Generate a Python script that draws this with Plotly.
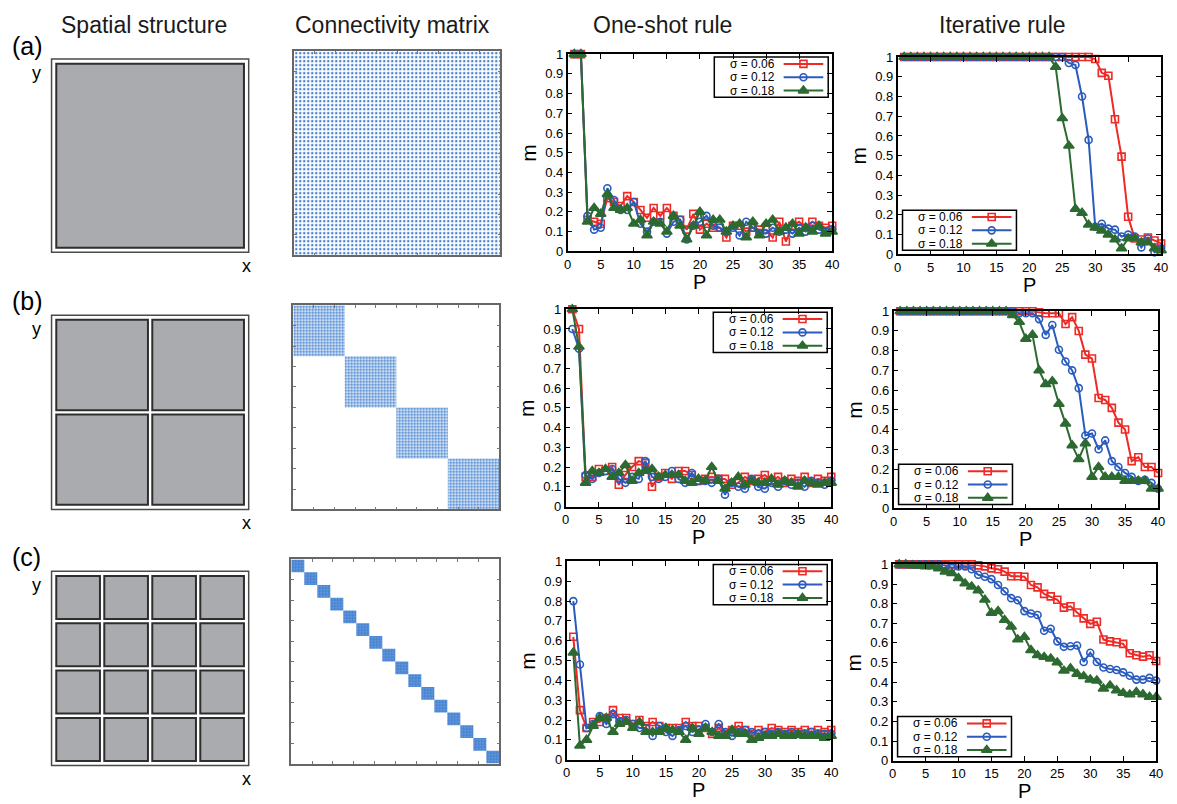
import plotly.graph_objects as go

W, H = 1177, 804
FONT = "Liberation Sans, Arial, Helvetica, sans-serif"

# ------------------------------------------------------------------ data
P = [1, 2, 3, 4, 5, 6, 7, 8, 9, 10, 11, 12, 13, 14, 15, 16, 17, 18, 19, 20,
     21, 22, 23, 24, 25, 26, 27, 28, 29, 30, 31, 32, 33, 34, 35, 36, 37, 38, 39, 40]
X_TICKS = [0, 5, 10, 15, 20, 25, 30, 35, 40]
Y_TICKS = [0, 0.1, 0.2, 0.3, 0.4, 0.5, 0.6, 0.7, 0.8, 0.9, 1]
Y_TICK_TEXT = ["0", "0.1", "0.2", "0.3", "0.4", "0.5", "0.6", "0.7", "0.8", "0.9", "1"]
SIGMA_LABELS = ["σ = 0.06", "σ = 0.12", "σ = 0.18"]
COLUMN_TITLES = ["Spatial structure", "Connectivity matrix", "One-shot rule", "Iterative rule"]
ROW_LABELS = ["(a)", "(b)", "(c)"]
GRID_SIZES = [1, 2, 4]                     # modules per side of the spatial structure
MATRIX_BLOCKS_A = [0]
MATRIX_BLOCKS_B = [0, 1, 2, 3]
MATRIX_BLOCKS_C = [0, 1, 2, 3, 4, 5, 6, 7, 8, 9, 10, 11, 12, 13, 14, 15]

# one-shot rule
OS_A_006 = [1, 1, 0.16, 0.15, 0.14, 0.27, 0.25, 0.23, 0.28, 0.25, 0.21, 0.17, 0.22, 0.18, 0.22, 0.18, 0.16, 0.11, 0.19, 0.11,
            0.14, 0.12, 0.12, 0.07, 0.13, 0.13, 0.10, 0.12, 0.11, 0.11, 0.07, 0.15, 0.05, 0.13, 0.15, 0.12, 0.15, 0.13, 0.12, 0.13]
OS_A_012 = [1, 1, 0.18, 0.11, 0.12, 0.32, 0.26, 0.21, 0.21, 0.25, 0.14, 0.10, 0.15, 0.15, 0.09, 0.15, 0.16, 0.06, 0.13, 0.15,
            0.18, 0.13, 0.12, 0.10, 0.12, 0.08, 0.15, 0.12, 0.09, 0.09, 0.12, 0.10, 0.11, 0.09, 0.12, 0.10, 0.13, 0.11, 0.10, 0.11]
OS_A_018 = [1, 1, 0.15, 0.22, 0.19, 0.29, 0.22, 0.21, 0.22, 0.14, 0.16, 0.08, 0.15, 0.14, 0.10, 0.18, 0.13, 0.06, 0.13, 0.20,
            0.08, 0.16, 0.16, 0.10, 0.13, 0.14, 0.07, 0.15, 0.08, 0.14, 0.16, 0.10, 0.12, 0.14, 0.09, 0.12, 0.10, 0.13, 0.09, 0.10]
OS_B_006 = [1.0, 0.90, 0.15, 0.15, 0.19, 0.18, 0.20, 0.11, 0.16, 0.20, 0.23, 0.22, 0.10, 0.15, 0.17, 0.14, 0.18, 0.18, 0.16, 0.13,
            0.14, 0.15, 0.14, 0.14, 0.11, 0.12, 0.15, 0.13, 0.14, 0.16, 0.13, 0.15, 0.12, 0.14, 0.13, 0.15, 0.12, 0.14, 0.13, 0.15]
OS_B_012 = [0.90, 0.80, 0.16, 0.14, 0.17, 0.18, 0.19, 0.14, 0.12, 0.15, 0.14, 0.23, 0.15, 0.14, 0.15, 0.18, 0.14, 0.12, 0.17, 0.13,
            0.13, 0.12, 0.14, 0.06, 0.12, 0.10, 0.09, 0.14, 0.10, 0.09, 0.12, 0.10, 0.13, 0.11, 0.12, 0.10, 0.13, 0.12, 0.11, 0.13]
OS_B_018 = [1.0, 0.81, 0.12, 0.18, 0.17, 0.19, 0.15, 0.17, 0.21, 0.13, 0.17, 0.18, 0.19, 0.15, 0.16, 0.16, 0.16, 0.13, 0.12, 0.14,
            0.13, 0.20, 0.13, 0.09, 0.12, 0.15, 0.11, 0.13, 0.12, 0.12, 0.14, 0.11, 0.13, 0.12, 0.10, 0.13, 0.12, 0.11, 0.12, 0.12]
OS_C_006 = [0.62, 0.25, 0.16, 0.19, 0.19, 0.21, 0.25, 0.21, 0.21, 0.18, 0.20, 0.17, 0.19, 0.17, 0.16, 0.16, 0.16, 0.19, 0.17, 0.17,
            0.16, 0.13, 0.16, 0.13, 0.15, 0.17, 0.15, 0.13, 0.15, 0.14, 0.16, 0.15, 0.14, 0.15, 0.14, 0.15, 0.14, 0.15, 0.14, 0.15]
OS_C_012 = [0.80, 0.48, 0.16, 0.18, 0.22, 0.18, 0.23, 0.19, 0.20, 0.18, 0.16, 0.16, 0.12, 0.17, 0.14, 0.12, 0.15, 0.17, 0.14, 0.15,
            0.18, 0.14, 0.18, 0.14, 0.12, 0.14, 0.15, 0.14, 0.13, 0.14, 0.13, 0.14, 0.13, 0.14, 0.13, 0.13, 0.14, 0.13, 0.13, 0.13]
OS_C_018 = [0.54, 0.07, 0.10, 0.17, 0.21, 0.21, 0.14, 0.18, 0.19, 0.16, 0.19, 0.14, 0.14, 0.14, 0.16, 0.15, 0.14, 0.10, 0.16, 0.13,
            0.16, 0.14, 0.12, 0.12, 0.15, 0.13, 0.13, 0.10, 0.11, 0.12, 0.12, 0.13, 0.12, 0.12, 0.13, 0.12, 0.12, 0.12, 0.11, 0.12]

# iterative rule
IT_A_006 = [1, 1, 1, 1, 1, 1, 1, 1, 1, 1, 1, 1, 1, 1, 1, 1, 1, 1, 1, 1,
            1, 1, 1, 1, 1, 1, 1, 1, 1, 0.99, 0.92, 0.905, 0.685, 0.495, 0.19, 0.08, 0.075, 0.085, 0.07, 0.055]
IT_A_012 = [1, 1, 1, 1, 1, 1, 1, 1, 1, 1, 1, 1, 1, 1, 1, 1, 1, 1, 1, 1,
            1, 1, 1, 1, 1, 0.97, 0.96, 0.80, 0.58, 0.14, 0.155, 0.13, 0.125, 0.09, 0.10, 0.09, 0.035, 0.08, 0.01, 0.03]
IT_A_018 = [1, 1, 1, 1, 1, 1, 1, 1, 1, 1, 1, 1, 1, 1, 1, 1, 1, 1, 1, 1,
            1, 1, 1, 0.95, 0.69, 0.55, 0.23, 0.21, 0.15, 0.135, 0.12, 0.10, 0.075, 0.03, 0.08, 0.08, 0.06, 0.06, 0.03, 0.02]
IT_B_006 = [1, 1, 1, 1, 1, 1, 1, 1, 1, 1, 1, 1, 1, 1, 1, 1, 1, 1, 1, 1,
            1, 0.995, 0.99, 0.99, 0.99, 0.935, 0.97, 0.90, 0.78, 0.76, 0.56, 0.55, 0.51, 0.435, 0.40, 0.24, 0.26, 0.21, 0.21, 0.18]
IT_B_012 = [1, 1, 1, 1, 1, 1, 1, 1, 1, 1, 1, 1, 1, 1, 1, 1, 1, 1, 0.99, 0.99,
            0.99, 0.96, 0.88, 0.93, 0.805, 0.745, 0.70, 0.61, 0.37, 0.38, 0.30, 0.345, 0.24, 0.21, 0.18, 0.16, 0.14, 0.145, 0.13, 0.10]
IT_B_018 = [1, 1, 1, 1, 1, 1, 1, 1, 1, 1, 1, 1, 1, 1, 1, 1, 1, 0.98, 0.945, 0.86,
            0.88, 0.70, 0.63, 0.645, 0.53, 0.43, 0.32, 0.25, 0.33, 0.16, 0.21, 0.16, 0.16, 0.16, 0.14, 0.14, 0.14, 0.14, 0.10, 0.10]
IT_C_006 = [1, 1, 1, 1, 1, 1, 1, 1, 1, 1, 1, 1, 0.995, 0.99, 0.98, 0.975, 0.963, 0.94, 0.94, 0.937,
            0.895, 0.883, 0.85, 0.837, 0.82, 0.78, 0.787, 0.755, 0.725, 0.697, 0.708, 0.617, 0.608, 0.603, 0.595, 0.547, 0.537, 0.53, 0.537, 0.508]
IT_C_012 = [1, 1, 1, 1, 1, 1, 1, 0.995, 0.983, 0.99, 0.99, 0.975, 0.947, 0.937, 0.925, 0.895, 0.863, 0.828, 0.817, 0.762,
            0.75, 0.742, 0.662, 0.672, 0.608, 0.58, 0.583, 0.587, 0.503, 0.55, 0.503, 0.475, 0.467, 0.462, 0.45, 0.433, 0.413, 0.413, 0.422, 0.408]
IT_C_018 = [1, 1, 0.995, 0.993, 0.99, 0.99, 0.98, 0.963, 0.955, 0.93, 0.903, 0.887, 0.867, 0.82, 0.753, 0.762, 0.717, 0.683, 0.617, 0.63,
            0.563, 0.537, 0.528, 0.52, 0.50, 0.458, 0.47, 0.442, 0.43, 0.413, 0.408, 0.367, 0.383, 0.358, 0.345, 0.337, 0.35, 0.338, 0.325, 0.325]

ONESHOT = [[OS_A_006, OS_A_012, OS_A_018], [OS_B_006, OS_B_012, OS_B_018], [OS_C_006, OS_C_012, OS_C_018]]
ITERATIVE = [[IT_A_006, IT_A_012, IT_A_018], [IT_B_006, IT_B_012, IT_B_018], [IT_C_006, IT_C_012, IT_C_018]]
MATRIX_BLOCKS = [MATRIX_BLOCKS_A, MATRIX_BLOCKS_B, MATRIX_BLOCKS_C]

# ------------------------------------------------------------------ styles / layout (pixels)
SERIES_STYLE = [
    dict(color="#ee2a26", symbol="square-open", size=7),
    dict(color="#2a5bbd", symbol="circle-open", size=7),
    dict(color="#2c6a31", symbol="triangle-up", size=9),
]
DOT_BLUE = "#4683d2"
MATRIX_PATTERN = [dict(size=4, solidity=0.3), dict(size=3, solidity=0.5), dict(size=3, solidity=0.85)]

SPATIAL_BOX = [(48, 53, 247, 250), (48, 314, 247, 512), (48, 575, 247, 773)]
MATRIX_BOX = [(293, 45, 501, 253), (292, 304, 500, 512), (290, 563, 500, 771)]
ONESHOT_BOX = [(569, 48, 836, 249), (567, 308, 835, 509), (568, 565, 835, 767)]
ITER_BOX = [(902, 51, 1168, 252), (898, 310, 1165, 511), (897, 568, 1163, 768)]
TITLE_X = [141, 392, 665, 1008]
ROW_LABEL_POS = [(24, 40), (24, 300), (23, 560)]
LEG_W, LEG_H = 115, 41
LEG_ROWS = [7, 20.6, 34.2]


def dom_x(x0, x1):
    return [x0 / W, x1 / W]


def dom_y(y0, y1):
    return [1 - y1 / H, 1 - y0 / H]


def px(x):
    return x / W


def py(y):
    return 1 - y / H


def nm(kind, k):
    return kind if k == 1 else f"{kind}{k}"


fig = go.Figure()
layout = dict(width=W, height=H, margin=dict(l=0, r=0, t=0, b=0), paper_bgcolor="white",
              plot_bgcolor="rgba(0,0,0,0)", showlegend=False, barmode="overlay",
              font=dict(family=FONT, color="black"))
shapes, annotations = [], []


def text(x, y, s, size, **kw):
    d = dict(x=px(x), y=py(y), xref="paper", yref="paper", text=s, showarrow=False,
             font=dict(family=FONT, size=size, color=kw.pop("color", "black")),
             xanchor=kw.pop("xanchor", "center"), yanchor=kw.pop("yanchor", "middle"))
    d.update(kw)
    annotations.append(d)


# column titles and row labels
for t, x in zip(COLUMN_TITLES, TITLE_X):
    text(x, 18, t, 23, color="#1a1a1a")
for lab, (x, y) in zip(ROW_LABELS, ROW_LABEL_POS):
    text(x, y, lab, 25)

# ---------------- spatial structure
for r, n in enumerate(GRID_SIZES):
    k = 1 + r
    x0, y0, x1, y1 = SPATIAL_BOX[r]
    mx, my = 4 / (x1 - x0), 4 / (y1 - y0)
    layout[nm("xaxis", k)] = dict(domain=dom_x(x0 - 4, x1 + 4), range=[-mx, 1 + mx], visible=False,
                                  anchor=f"y{k}", fixedrange=True)
    layout[nm("yaxis", k)] = dict(domain=dom_y(y0 - 4, y1 + 4), range=[-my, 1 + my], visible=False,
                                  anchor=f"x{k}", fixedrange=True)
    xr, yr = f"x{k}", f"y{k}"
    shapes.append(dict(type="rect", xref=xr, yref=yr, x0=0, x1=1, y0=0, y1=1,
                       line=dict(color="#4a4a4a", width=1.5)))
    pad, gap = 0.024, 0.022
    cw = (1 - 2 * pad - (n - 1) * gap) / n
    for i in range(n):
        for j in range(n):
            cx0 = pad + i * (cw + gap)
            cy0 = pad + j * (cw + gap)
            shapes.append(dict(type="rect", xref=xr, yref=yr, x0=cx0, x1=cx0 + cw, y0=cy0, y1=cy0 + cw,
                               fillcolor="#aaabae", line=dict(color="#2e2e2e", width=2)))
    text(33, y0 + 14, "y", 18)
    text(245, y1 + 14, "x", 18)

# ---------------- connectivity matrices
for r, blocks in enumerate(MATRIX_BLOCKS):
    k = 4 + r
    n = len(blocks)
    x0, y0, x1, y1 = MATRIX_BOX[r]
    fig.add_trace(go.Bar(
        x=[b + 0.5 for b in blocks], y=[1 for _ in blocks], base=blocks, width=[1 for _ in blocks],
        xaxis=f"x{k}", yaxis=f"y{k}", hoverinfo="skip",
        marker=dict(color="white", line=dict(width=0),
                    pattern=dict(shape=".", fgcolor=DOT_BLUE, bgcolor="white", fillmode="replace",
                                 **MATRIX_PATTERN[r]))))
    common = dict(showline=True, mirror="allticks", ticks="inside", ticklen=3, tickwidth=1,
                  tickcolor="#777", linecolor="#666", linewidth=1.5, showticklabels=False,
                  showgrid=False, zeroline=False, tick0=0, dtick=n / 10, fixedrange=True)
    layout[nm("xaxis", k)] = dict(domain=dom_x(x0, x1), range=[0, n], anchor=f"y{k}", **common)
    layout[nm("yaxis", k)] = dict(domain=dom_y(y0, y1), range=[n, 0], anchor=f"x{k}", **common)


# ---------------- line panels
def line_panel(k, box, series, legend_where):
    x0, y0, x1, y1 = box
    ax = dict(showline=True, mirror="allticks", ticks="inside", ticklen=5, tickwidth=1.2,
              tickcolor="black", linecolor="black", linewidth=1.5, showgrid=False, zeroline=False,
              tickfont=dict(family=FONT, size=13, color="black"), fixedrange=True)
    layout[nm("xaxis", k)] = dict(domain=dom_x(x0, x1), range=[0, 40], tickvals=X_TICKS,
                                  anchor=f"y{k}", **ax)
    layout[nm("yaxis", k)] = dict(domain=dom_y(y0, y1), range=[0, 1], tickvals=Y_TICKS,
                                  ticktext=Y_TICK_TEXT, anchor=f"x{k}", **ax)
    for vals, st in zip(series, SERIES_STYLE):
        fig.add_trace(go.Scatter(
            x=P, y=vals, mode="lines+markers", xaxis=f"x{k}", yaxis=f"y{k}", cliponaxis=False,
            line=dict(color=st["color"], width=2), hoverinfo="skip",
            marker=dict(symbol=st["symbol"], size=st["size"], color=st["color"],
                        line=dict(color=st["color"], width=1.6))))
    text(x0 - 39, (y0 + y1) / 2, "m", 21, textangle=-90)
    text((x0 + x1) / 2, y1 + 31, "P", 20)
    # legend (text on the left, sample on the right)
    if legend_where == "top-right":
        bx0, by0 = x1 - LEG_W - 4, y0 + 3
    else:
        bx0, by0 = x0 + 5, y1 - LEG_H - 4
    shapes.append(dict(type="rect", xref="paper", yref="paper", x0=px(bx0), x1=px(bx0 + LEG_W),
                       y0=py(by0 + LEG_H), y1=py(by0), line=dict(color="black", width=1.5),
                       fillcolor="white", layer="below"))
    for lab, st, dy in zip(SIGMA_LABELS, SERIES_STYLE, LEG_ROWS):
        ry = by0 + dy
        text(bx0 + 63, ry, lab, 12, xanchor="right")
        fig.add_trace(go.Scatter(x=[bx0 + 70, bx0 + 110], y=[ry, ry], mode="lines", xaxis="x13",
                                 yaxis="y13", line=dict(color=st["color"], width=2), hoverinfo="skip"))
        fig.add_trace(go.Scatter(x=[bx0 + 90], y=[ry], mode="markers", xaxis="x13", yaxis="y13",
                                 hoverinfo="skip", cliponaxis=False,
                                 marker=dict(symbol=st["symbol"], size=st["size"], color=st["color"],
                                             line=dict(color=st["color"], width=1.6))))


for r in range(3):
    line_panel(7 + r, ONESHOT_BOX[r], ONESHOT[r], "top-right")
    line_panel(10 + r, ITER_BOX[r], ITERATIVE[r], "bottom-left")

# overlay pixel axes for the hand-made legends
layout["xaxis13"] = dict(domain=[0, 1], range=[0, W], visible=False, anchor="y13", fixedrange=True)
layout["yaxis13"] = dict(domain=[0, 1], range=[H, 0], visible=False, anchor="x13", fixedrange=True)

layout["shapes"] = shapes
layout["annotations"] = annotations
fig.update_layout(**layout)
fig.write_html("out.html")
